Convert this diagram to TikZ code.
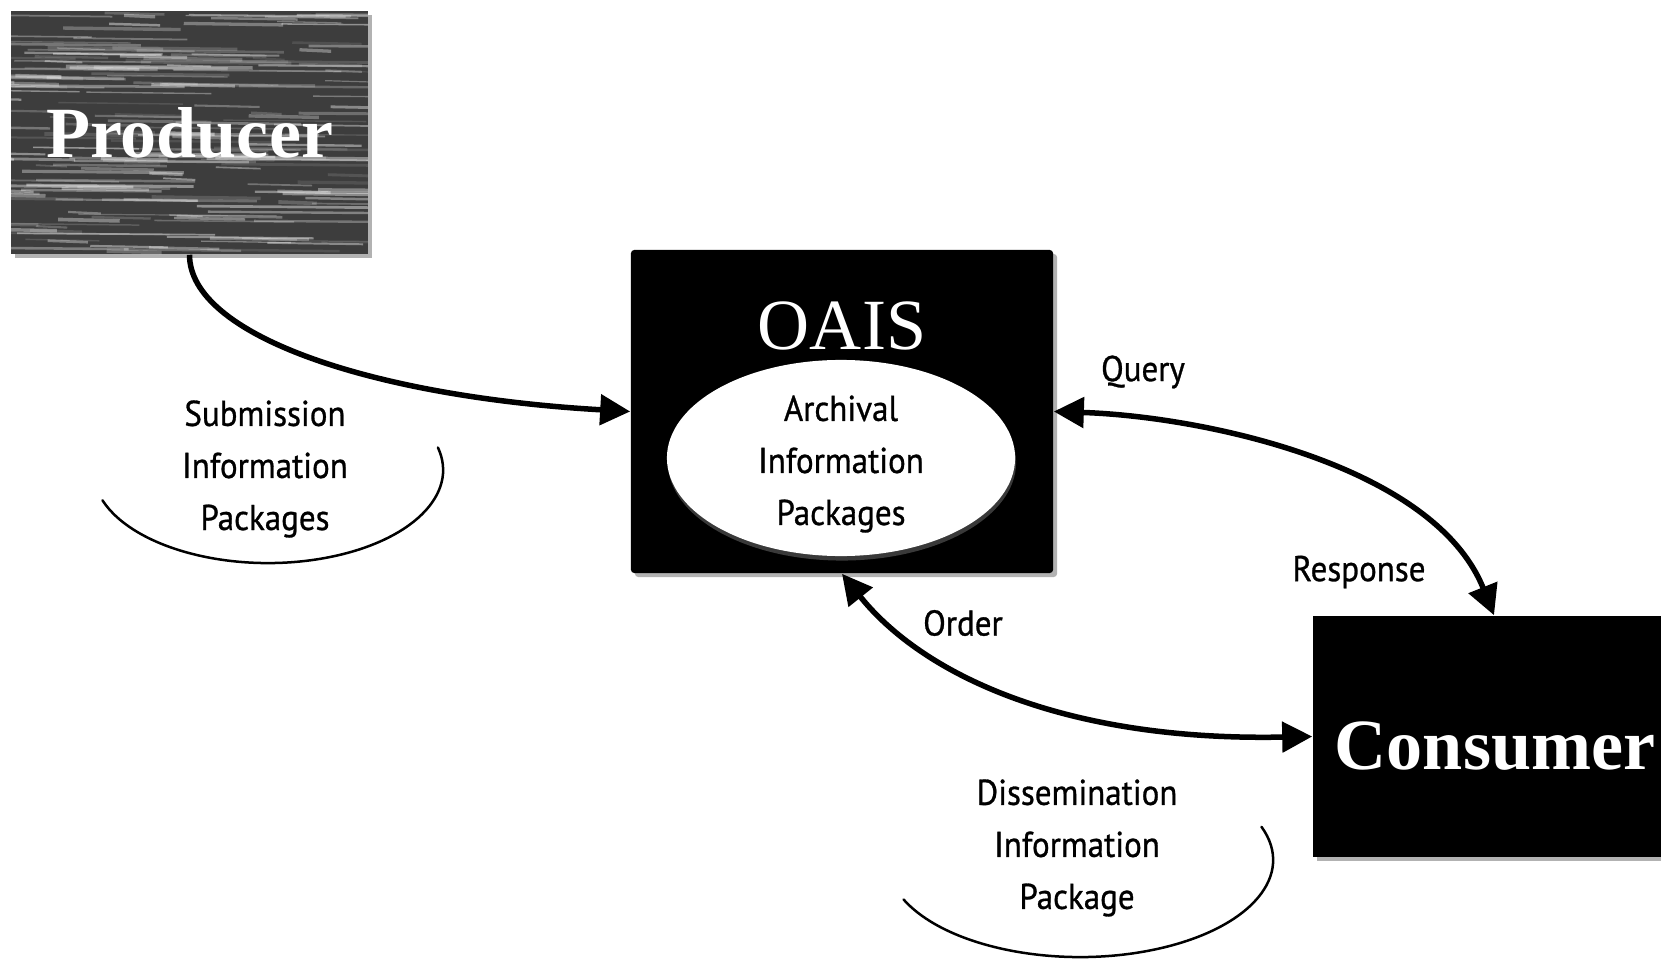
\documentclass[tikz,border=0pt]{standalone}
\usepackage{fontspec}
\setmainfont{Liberation Serif}
\newfontfamily\lblfont[FakeStretch=0.92, FakeBold=0.8]{PT Sans}
\usetikzlibrary{positioning,arrows.meta,shapes.geometric,shadows}
\tikzset{
  entity/.style={rectangle, fill=black, inner sep=0pt,
    drop shadow={shadow xshift=0.04cm, shadow yshift=-0.04cm, fill=black!60}},
  bigname/.style={text=white, inner sep=0pt, font=\fontsize{20.5pt}{24pt}\selectfont\bfseries},
  lbl/.style={font=\lblfont\fontsize{10.2pt}{14.8pt}\selectfont, align=center, inner sep=0pt},
  flow/.style={line width=0.055cm, -{Triangle[length=0.3cm, width=0.3cm]}},
  both/.style={line width=0.055cm, {Triangle[length=0.3cm, width=0.3cm]}-{Triangle[length=0.3cm, width=0.3cm]}},
  pkgarc/.style={line width=0.025cm, line cap=round}
}

\begin{document}
\begin{tikzpicture}[x=0.01cm, y=-0.01cm]
	\pgfmathsetseed{11}
	\path[use as bounding box, fill=white] (0,0) rectangle (1661,961);

	\node[entity, fill=black!76, minimum width=3.57cm, minimum height=2.43cm, bigname,
	  path picture={
	    \foreach \k in {1,...,190}{
	      \pgfmathsetmacro\xa{-60+rnd*380}
	      \pgfmathsetmacro\ya{rnd*243}
	      \pgfmathsetmacro\len{30+rnd*170}
	      \pgfmathsetmacro\op{0.1+0.35*rnd}
	      \pgfmathsetmacro\lw{0.012+0.025*rnd}
	      \draw[white, opacity=\op, line width=\lw cm]
	        ([shift={(\xa,\ya)}]path picture bounding box.north west) -- ++(\len,1.5);
	    }
	  }] (producer) at (189.5,132.5) {Producer};

	\node[entity, rounded corners=1pt, minimum width=4.22cm, minimum height=3.23cm] (oais) at (842,411.5) {};
	\node[text=white, inner sep=0pt, font=\fontsize{20.5pt}{24pt}\selectfont] (oaisname) at (842,326) {OAIS};
	\node[ellipse, fill=white, minimum width=3.48cm, minimum height=1.96cm, inner sep=0pt,
	  drop shadow={shadow xshift=0.01cm, shadow yshift=-0.045cm, fill=black!55}] (aip) at (841,458) {};
	\node[lbl] (aiptext) at (841,464) {Archival\\Information\\Packages};

	\node[entity, minimum width=3.48cm, minimum height=2.41cm] (consumer) at (1487,736.5) {};
	\node[bigname] (consumername) at (1495,746) {Consumer};

	\node[lbl] (sip) at (265,469) {Submission\\Information\\Packages};
	\node[lbl] (dip) at (1077,848) {Dissemination\\Information\\Package};
	\node[lbl] (query) at (1143,372) {Query};
	\node[lbl] (response) at (1359,572) {Response};
	\node[lbl] (order) at (963,623) {Order};

	\draw[flow] (producer.south) .. controls +(0,80) and +(-260,-15) .. (oais.west);
	\draw[both] (oais.east) .. controls +(150,5) and +(-60,-150) .. ([xshift=0.07cm]consumer.north);
	\draw[both] (oais.south) .. controls +(80,100) and +(-250,5) .. (consumer.west);

	\draw[pkgarc] ([shift={(3,1)}]sip.center) ++(199:1.75cm and 0.93cm)
	  arc[start angle=199, end angle=374, x radius=1.75cm, y radius=0.93cm];
	\draw[pkgarc] ([shift={(3,12)}]dip.center) ++(204:1.93cm and 0.97cm)
	  arc[start angle=204, end angle=380, x radius=1.93cm, y radius=0.97cm];
\end{tikzpicture}
\end{document}
